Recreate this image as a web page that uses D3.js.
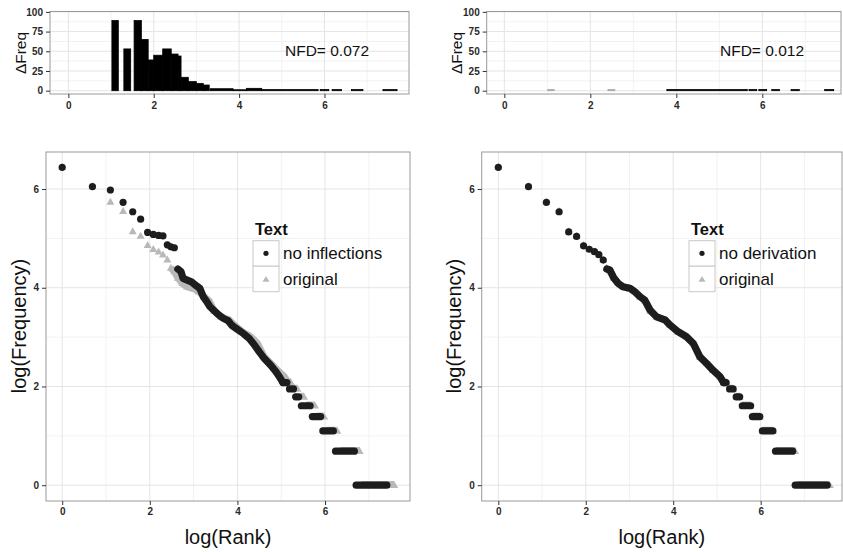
<!DOCTYPE html>
<html><head><meta charset="utf-8">
<script src="https://cdn.jsdelivr.net/npm/d3@7/dist/d3.min.js"></script>
<style>
body{margin:0;background:#fff}
svg{font-family:"Liberation Sans",Arial,Helvetica,sans-serif;display:block}
</style></head>
<body><svg width="843" height="552"></svg>
<script>
// ---------------- DATA ----------------
// Top histograms: [logRankStart, logRankEnd, ΔFreq]
const histLeft = [[1.02,1.17,89],[1.30,1.46,53],[1.54,1.71,89],[1.71,1.87,65],[1.87,2.00,39],
  [2.00,2.21,45],[2.21,2.41,53],[2.41,2.57,46.5],[2.57,2.64,44],[2.64,2.81,17],[2.81,3.00,11.5],
  [3.00,3.16,9.3],[3.16,3.30,7.2],[3.32,3.86,2.5],[3.86,4.17,1.2],[4.17,4.53,3],[4.53,5.85,1.4],
  [5.90,6.10,1.4],[6.18,6.40,1.4],[6.63,6.90,1.4],[7.37,7.70,1.4]];
const histRightGrey = [[1.01,1.16,1.4],[2.41,2.57,1.4]];
const histRightBlack = [[3.78,5.65,1.4],[5.69,5.87,1.4],[5.92,6.10,1.4],[6.22,6.40,1.4],[6.67,6.86,1.4],[7.45,7.66,1.4]];
const nfdLeft = "NFD= 0.072";
const nfdRight = "NFD= 0.012";

// Scatter: isolated points [logRank, logFreq]
const origPoints = [[0,6.44],[0.69,6.05],[1.10,5.74],[1.39,5.55],[1.61,5.14],[1.79,5.05],[1.95,4.86],[2.08,4.78],[2.20,4.73],[2.30,4.67],[2.40,4.57]];
const noInflPoints = [[0,6.44],[0.69,6.05],[1.10,5.98],[1.39,5.73],[1.61,5.54],[1.79,5.39],[1.95,5.12],[2.08,5.08],[2.20,5.06],[2.30,5.05],[2.40,4.87],[2.48,4.83],[2.56,4.81]];
const noDerivPoints = [[0,6.44],[0.69,6.05],[1.10,5.73],[1.39,5.54],[1.61,5.13],[1.79,5.04],[1.95,4.85],[2.08,4.78],[2.20,4.73],[2.30,4.67],[2.40,4.56]];
// Dense runs of consecutive ranks (overlapping markers) [logRank, logFreq]
const origBand = [[2.48,4.40],[2.56,4.33],[2.64,4.20],[2.74,4.09],[2.85,4.02],[3.01,3.98],[3.12,3.92],[3.24,3.82],[3.35,3.74],[3.47,3.53],[3.62,3.41],[3.81,3.35],[3.92,3.25],[4.11,3.11],[4.30,3.01],[4.46,2.87],[4.61,2.60],[4.76,2.47],[4.91,2.33],[5.07,2.20],[5.16,2.08]];
const noInflBand = [[2.64,4.38],[2.71,4.33],[2.76,4.19],[2.84,4.16],[2.95,4.12],[3.03,4.06],[3.14,3.99],[3.22,3.82],[3.30,3.72],[3.37,3.62],[3.45,3.55],[3.56,3.46],[3.68,3.38],[3.79,3.33],[3.87,3.24],[3.98,3.17],[4.14,3.07],[4.27,2.97],[4.38,2.85],[4.50,2.70],[4.62,2.56],[4.76,2.43],[4.88,2.30],[4.97,2.18],[5.04,2.08]];
const noDerivBand = [[2.48,4.38],[2.55,4.36],[2.64,4.20],[2.74,4.09],[2.85,4.02],[3.01,3.99],[3.12,3.92],[3.24,3.82],[3.35,3.75],[3.47,3.55],[3.62,3.41],[3.81,3.35],[3.92,3.25],[4.11,3.11],[4.30,3.01],[4.46,2.87],[4.61,2.60],[4.76,2.47],[4.91,2.33],[5.07,2.20],[5.15,2.08]];
// Rank runs sharing one frequency: [logFreq, logRankStart, logRankEnd]
const origRuns = [[2.08,5.16,5.22],[1.95,5.30,5.37],[1.79,5.45,5.52],[1.61,5.58,5.77],[1.39,5.82,5.98],[1.10,6.05,6.28],[0.69,6.36,6.79],[0,6.84,7.58]];
const noInflRuns = [[2.08,5.04,5.13],[1.95,5.19,5.28],[1.79,5.33,5.40],[1.61,5.46,5.66],[1.39,5.71,5.90],[1.10,5.95,6.19],[0.69,6.24,6.67],[0,6.71,7.41]];
const noDerivRuns = [[2.08,5.15,5.21],[1.95,5.29,5.37],[1.79,5.44,5.52],[1.61,5.58,5.77],[1.39,5.81,5.98],[1.10,6.04,6.28],[0.69,6.34,6.73],[0,6.79,7.52]];

const xTicks = [0,2,4,6];
const logTicks = [0,2,4,6];
const histTicks = [0,25,50,75,100];
const legendTitle = "Text";
const legendLeft = ["no inflections","original"];
const legendRight = ["no derivation","original"];

// ---------------- STYLE ----------------
const BLACK = "#1d1d1d", GREY = "#b9b9b9";
const R = 3.6, TW = 8, TH = 7;
const svg = d3.select("svg");

function frame(g, x, y, xMinor, yMajor, yMinor) {
  const [x0,x1] = x.range(), [y1,y0] = y.range();
  g.append("rect").attr("x",x0).attr("y",y0).attr("width",x1-x0).attr("height",y1-y0).attr("fill","#fff");
  const gm = g.append("g");
  xMinor.forEach(v=>gm.append("line").attr("x1",x(v)).attr("x2",x(v)).attr("y1",y0).attr("y2",y1).attr("stroke","#f2f2f2"));
  yMinor.forEach(v=>gm.append("line").attr("y1",y(v)).attr("y2",y(v)).attr("x1",x0).attr("x2",x1).attr("stroke","#f2f2f2"));
  xTicks.forEach(v=>gm.append("line").attr("x1",x(v)).attr("x2",x(v)).attr("y1",y0).attr("y2",y1).attr("stroke","#e4e4e4"));
  yMajor.forEach(v=>gm.append("line").attr("y1",y(v)).attr("y2",y(v)).attr("x1",x0).attr("x2",x1).attr("stroke","#e4e4e4"));
}
function border(g, x, y) {
  const [x0,x1] = x.range(), [y1,y0] = y.range();
  g.append("rect").attr("x",x0).attr("y",y0).attr("width",x1-x0).attr("height",y1-y0)
    .attr("fill","none").attr("stroke","#9a9a9a").attr("stroke-width",1);
}
function axes(g, x, y, yTicks, xPad) {
  const [y1] = y.range(), [x0] = x.range();
  const ax = g.append("g").attr("transform",`translate(0,${y1})`)
    .call(d3.axisBottom(x).tickValues(xTicks).tickFormat(d3.format("d")).tickSize(4).tickPadding(xPad));
  const ay = g.append("g").attr("transform",`translate(${x0},0)`)
    .call(d3.axisLeft(y).tickValues(yTicks).tickFormat(d3.format("d")).tickSize(4).tickPadding(3));
  [ax,ay].forEach(a=>{
    a.select(".domain").remove();
    a.selectAll(".tick line").attr("stroke","#333");
    a.selectAll(".tick text").attr("fill","#2a2a2a").style("font-size","10px").style("font-weight","bold")
      .style("font-family",'"Liberation Sans",Arial,sans-serif');
  });
}
function bars(g, x, y, data, color) {
  g.selectAll(null).data(data).enter().append("rect")
    .attr("x",d=>x(d[0])).attr("width",d=>x(d[1])-x(d[0]))
    .attr("y",d=>y(d[2])).attr("height",d=>y(0)-y(d[2]))
    .attr("fill",color).attr("stroke",color).attr("stroke-width",0.8);
}
function triPath(cx, cy, w, h) {
  return `M${cx-w/2},${cy+0.4*h}L${cx},${cy-0.6*h}L${cx+w/2},${cy+0.4*h}Z`;
}
function drawTriSeries(g, x, y, points, band, runs) {
  g.append("path").datum(band).attr("d", d3.line().x(d=>x(d[0])).y(d=>y(d[1])))
    .attr("fill","none").attr("stroke",GREY).attr("stroke-width",TH).attr("stroke-linejoin","round");
  g.selectAll(null).data(band.concat(points)).enter().append("path")
    .attr("d",d=>triPath(x(d[0]),y(d[1]),TW,TH)).attr("fill",GREY);
  g.selectAll(null).data(runs).enter().append("path")
    .attr("d",d=>{const cy=y(d[0]),a=x(d[1]),b=x(d[2]);
      return `M${a-TW/2},${cy+0.4*TH}L${a},${cy-0.6*TH}L${b},${cy-0.6*TH}L${b+TW/2},${cy+0.4*TH}Z`;})
    .attr("fill",GREY);
}
function drawDotSeries(g, x, y, points, band, runs) {
  g.append("path").datum(band).attr("d", d3.line().x(d=>x(d[0])).y(d=>y(d[1])))
    .attr("fill","none").attr("stroke",BLACK).attr("stroke-width",2*R).attr("stroke-linejoin","round").attr("stroke-linecap","round");
  g.selectAll(null).data(points).enter().append("circle")
    .attr("cx",d=>x(d[0])).attr("cy",d=>y(d[1])).attr("r",R).attr("fill",BLACK);
  g.selectAll(null).data(runs).enter().append("line")
    .attr("x1",d=>x(d[1])).attr("x2",d=>x(d[2])).attr("y1",d=>y(d[0])).attr("y2",d=>y(d[0]))
    .attr("stroke",BLACK).attr("stroke-width",2*R).attr("stroke-linecap","round");
}
function legend(g, lx, ly, labels) {
  g.append("text").attr("x",lx+2).attr("y",ly-5.5).text(legendTitle)
    .style("font-size","16.5px").style("font-weight","bold").attr("fill","#111");
  labels.forEach((lab,i)=>{
    const ky = ly + i*25.5;
    g.append("rect").attr("x",lx).attr("y",ky).attr("width",26).attr("height",25.5)
      .attr("fill","#fff").attr("stroke","#c8c8c8").attr("stroke-width",1);
    if (i===0) g.append("circle").attr("cx",lx+13).attr("cy",ky+12.7).attr("r",2.6).attr("fill",BLACK);
    else g.append("path").attr("d",triPath(lx+13,ky+13.2,7,5.6)).attr("fill",GREY);
    g.append("text").attr("x",lx+30).attr("y",ky+18.5).text(lab).style("font-size","17px").attr("fill","#111");
  });
}
function yTitle(txt, cx, cy, size) {
  svg.append("text").attr("transform",`translate(${cx},${cy}) rotate(-90)`).attr("text-anchor","middle")
    .attr("dy","0.35em").style("font-size",size+"px").attr("fill","#111").text(txt);
}

// ---------------- PANELS ----------------
const yHist = d3.scaleLinear().domain([-4.2,100.5]).range([94,11.5]);
const yLog = d3.scaleLinear().domain([-0.32,6.75]).range([501,152]);
const panels = [
  {hx:d3.scaleLinear().domain([-0.43,7.98]).range([50,409]),
   sx:d3.scaleLinear().domain([-0.37,7.94]).range([46,410]),
   nfd:nfdLeft, nfdX:285, lab:legendLeft, lx:253, tx:19, hx0:21,
   pts:noInflPoints, band:noInflBand, runs:noInflRuns, left:true},
  {hx:d3.scaleLinear().domain([-0.41,7.83]).range([486.7,841]),
   sx:d3.scaleLinear().domain([-0.38,7.86]).range([481.7,842]),
   nfd:nfdRight, nfdX:720, lab:legendRight, lx:689, tx:454, hx0:457,
   pts:noDerivPoints, band:noDerivBand, runs:noDerivRuns, left:false}
];
panels.forEach(p=>{
  // histogram
  const gh = svg.append("g");
  frame(gh, p.hx, yHist, [1,3,5,7], histTicks, [12.5,37.5,62.5,87.5]);
  if (p.left) bars(gh, p.hx, yHist, histLeft, "#000");
  else { bars(gh, p.hx, yHist, histRightGrey, "#a8a8a8"); bars(gh, p.hx, yHist, histRightBlack, "#000"); }
  gh.append("text").attr("x",p.nfdX).attr("y",55.5).text(p.nfd).style("font-size","15.5px").attr("fill","#111");
  border(gh, p.hx, yHist);
  axes(gh, p.hx, yHist, histTicks, 4);
  yTitle("\u0394Freq", p.hx0, 53, 15.5);

  // scatter
  const gs = svg.append("g");
  frame(gs, p.sx, yLog, [1,3,5,7], logTicks, [1,3,5]);
  drawTriSeries(gs, p.sx, yLog, origPoints, origBand, origRuns);
  drawDotSeries(gs, p.sx, yLog, p.pts, p.band, p.runs);
  legend(gs, p.lx, 240.7, p.lab);
  border(gs, p.sx, yLog);
  axes(gs, p.sx, yLog, logTicks, 3);
  yTitle("log(Frequency)", p.tx, 326, 20);
  const [a,b] = p.sx.range();
  svg.append("text").attr("x",(a+b)/2).attr("y",544).attr("text-anchor","middle")
    .style("font-size","20px").attr("fill","#111").text("log(Rank)");
});
</script></body></html>
